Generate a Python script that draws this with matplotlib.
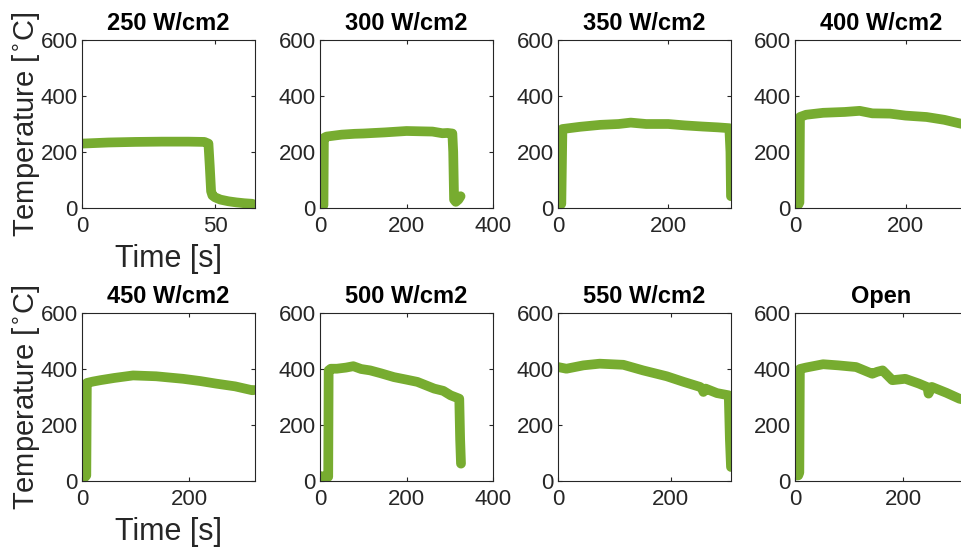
#!/usr/bin/env python3
import matplotlib
matplotlib.use("Agg")
import matplotlib.pyplot as plt
from matplotlib.ticker import MultipleLocator

# ====== data ======
titles = ["250 W/cm2", "300 W/cm2", "350 W/cm2", "400 W/cm2",
          "450 W/cm2", "500 W/cm2", "550 W/cm2", "Open"]

t_250 = [0, 5, 10, 20, 30, 40, 46, 47.5, 48, 48.5, 49, 50, 52, 55, 58, 61, 64]
T_250 = [230, 232, 234, 236, 237, 237, 236, 230, 150, 60, 45, 38, 30, 24, 20, 17, 15]

t_300 = [0, 4, 8, 9, 15, 30, 50, 80, 100, 150, 200, 230, 260, 283, 295, 306, 308, 310, 314, 320, 325]
T_300 = [5, 5, 10, 250, 255, 258, 262, 265, 266, 270, 275, 274, 273, 267, 268, 266, 200, 30, 22, 30, 42]

t_350 = [0, 4, 6, 8, 20, 40, 77, 110, 132, 160, 200, 230, 262, 290, 311, 313, 314]
T_350 = [10, 10, 15, 282, 285, 290, 297, 300, 305, 300, 300, 295, 291, 288, 285, 200, 42]

t_400 = [0, 6, 8, 9, 20, 51, 90, 117, 140, 172, 200, 238, 270, 298, 313]
T_400 = [12, 12, 20, 325, 333, 340, 343, 347, 338, 337, 330, 325, 315, 302, 296]

t_450 = [0, 6, 8, 9, 20, 34, 60, 95, 138, 160, 188, 220, 249, 285, 317, 320]
T_450 = [15, 15, 20, 350, 355, 360, 368, 377, 374, 370, 365, 357, 348, 338, 324, 325]

t_500 = [0, 10, 19, 20, 25, 39, 60, 77, 95, 116, 140, 171, 200, 225, 264, 285, 302, 322, 324, 326]
T_500 = [18, 15, 15, 395, 401, 401, 405, 410, 400, 395, 385, 371, 362, 354, 330, 322, 306, 294, 150, 62]

t_550 = [0, 15, 45, 74, 116, 151, 193, 223, 252, 256, 258, 262, 282, 303, 305, 307]
T_550 = [407, 401, 413, 419, 415, 395, 374, 354, 336, 330, 318, 330, 314, 306, 150, 50]

t_open = [0, 6, 8, 9, 20, 52, 80, 113, 143, 152, 162, 180, 204, 229, 245, 247, 253, 280, 304, 318]
T_open = [20, 20, 30, 400, 405, 417, 413, 407, 383, 390, 395, 360, 365, 348, 335, 312, 336, 315, 294, 288]

times = [t_250, t_300, t_350, t_400, t_450, t_500, t_550, t_open]
temps = [T_250, T_300, T_350, T_400, T_450, T_500, T_550, T_open]
x_max = [65, 400, 314, 313, 322, 400, 307, 320]
x_step = [50, 200, 200, 200, 200, 200, 200, 200]
# =========================================

plt.rcParams['font.family'] = ['Liberation Sans', 'DejaVu Sans']

green = '#77AC30'
dark = '#262626'

fig = plt.figure(figsize=(9.61, 5.47), dpi=100)
W, H = 961.0, 547.0
lefts = [82, 320, 558, 795]
tops = [40, 313]
aw, ah = 173, 168

for i in range(8):
    r, c = divmod(i, 4)
    ax = fig.add_axes([lefts[c] / W, 1 - (tops[r] + ah) / H, aw / W, ah / H])
    ax.plot(times[i], temps[i], color=green, linewidth=7,
            solid_capstyle='round', solid_joinstyle='round')
    ax.set_xlim(0, x_max[i])
    ax.set_ylim(0, 600)
    ax.xaxis.set_major_locator(MultipleLocator(x_step[i]))
    ax.yaxis.set_major_locator(MultipleLocator(200))
    ax.tick_params(direction='in', length=3, width=0.8, top=True, right=True,
                   labelsize=16, colors=dark)
    ax.tick_params(axis='x', pad=6)
    ax.tick_params(axis='y', pad=3)
    for s in ax.spines.values():
        s.set_color(dark)
        s.set_linewidth(0.8)
    ax.set_title(titles[i], fontsize=17, fontweight='bold', pad=7)
    if c == 0:
        ax.set_ylabel('Temperature [$^{\\circ}$C]', fontsize=21, color=dark, labelpad=-1)
        ax.set_xlabel('Time [s]', fontsize=22, color=dark, labelpad=5)

fig.savefig('out.png', dpi=100)
